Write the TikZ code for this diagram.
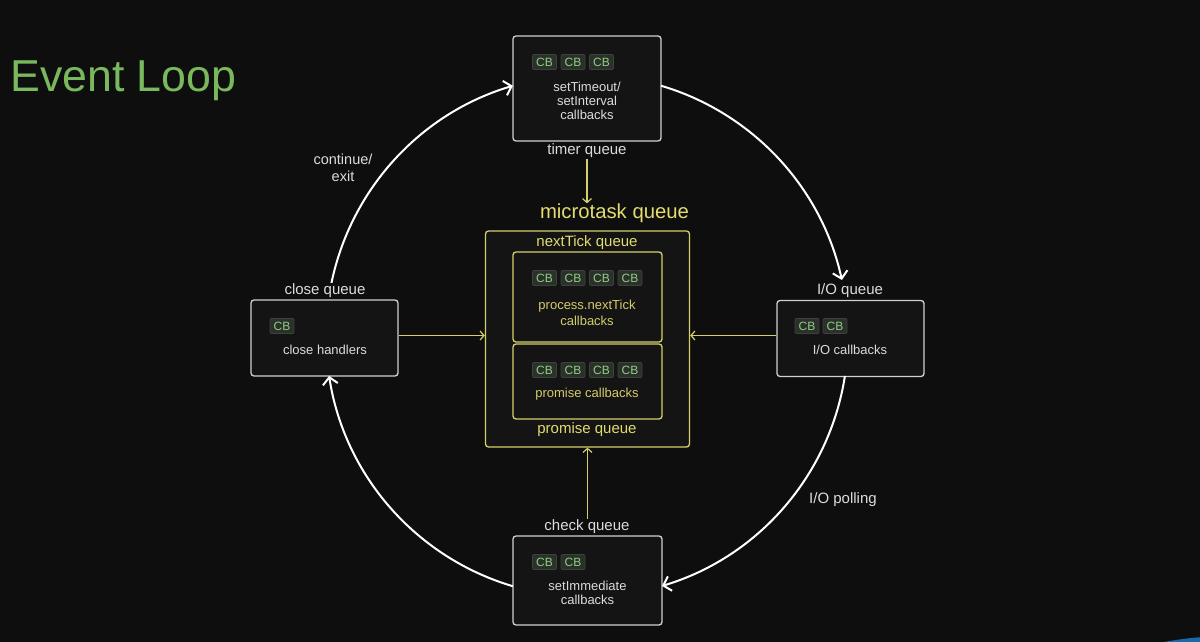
\documentclass[tikz,border=0pt]{standalone}
\usepackage{fontspec}
\setmainfont{Liberation Sans}
\usetikzlibrary{arrows.meta,calc}
\definecolor{bg}{HTML}{0E0E0E}
\definecolor{boxfill}{HTML}{141414}
\definecolor{boxdraw}{HTML}{D0D0D0}
\definecolor{txt}{HTML}{DCDCDC}
\definecolor{yline}{HTML}{D6CF6C}
\definecolor{ytxt}{HTML}{E3DC70}
\definecolor{ytxtin}{HTML}{D4CC6A}
\definecolor{titlegreen}{HTML}{79B85C}
\definecolor{cbtxt}{HTML}{8DCF80}
\definecolor{cbfill}{HTML}{2B302B}
\definecolor{cbdraw}{HTML}{3C423C}
\definecolor{blob}{HTML}{1A6AA8}
\tikzset{
  qbox/.style={draw=boxdraw, line width=1.3pt, rounded corners=3pt, fill=boxfill, inner sep=0pt},
  ybox/.style={draw=yline, line width=1.3pt, rounded corners=3pt, fill=boxfill, inner sep=0pt},
  cb/.style={draw=cbdraw, line width=0.6pt, fill=cbfill, text=cbtxt, minimum width=24pt, minimum height=15pt, inner sep=0pt, rounded corners=1pt, font=\fontsize{12}{12}\selectfont},
  btext/.style={text=txt, align=center, font=\fontsize{13}{14}\selectfont, inner sep=0pt},
  ytext/.style={text=ytxtin, align=center, font=\fontsize{13}{16}\selectfont, inner sep=0pt},
  qlabel/.style={text=txt, font=\fontsize{15}{15}\selectfont, inner sep=1pt, fill=bg},
  ylabel/.style={text=ytxt, font=\fontsize{15}{15}\selectfont, inner sep=1pt},
  loopline/.style={draw=white, line width=2pt, -{Straight Barb[length=7pt,width=15pt,line width=2pt]}},
  yarrow/.style={draw=yline, line width=1.2pt, -{Straight Barb[length=4pt,width=9pt,line width=1.2pt]}},
}
\begin{document}
\begin{tikzpicture}[x=1pt,y=1pt]
\fill[bg] (0,0) rectangle (1200,-642);
\useasboundingbox (0,0) rectangle (1200,-642);
\begin{scope}
\clip (0,0) rectangle (1200,-642);
\fill[blob] (1230,-1000) circle[radius=364];
\end{scope}

% title
\node[anchor=base west, text=titlegreen, font=\fontsize{44.7}{44.7}\selectfont, inner sep=0pt] (title) at (10,-92) {Event Loop};

% loop center
\coordinate (ctr) at (587,-336);

% timer
\node[qbox, minimum width=148pt, minimum height=105pt] (timer) at (587,-88.5) {};
\node[cb] (t1) at (544.5,-62) {CB};
\node[cb] (t2) at (573,-62) {CB};
\node[cb] (t3) at (601.5,-62) {CB};
\node[btext] (ttext) at (587,-101) {setTimeout/\\setInterval\\callbacks};
\node[qlabel] (timerlbl) at (587,-151) {timer queue};

% microtask
\node[ylabel, font=\fontsize{20.3}{20.3}\selectfont] (mtlbl) at (614.5,-213) {microtask queue};
\node[ybox, minimum width=204pt, minimum height=216pt] (mt) at (587.5,-339) {};
\node[ylabel] (ntlbl) at (587,-243) {nextTick queue};
\node[ybox, minimum width=149pt, minimum height=90pt] (nt) at (587.5,-297) {};
\node[cb] (n1) at (544.5,-278) {CB};
\node[cb] (n2) at (573,-278) {CB};
\node[cb] (n3) at (601.5,-278) {CB};
\node[cb] (n4) at (630,-278) {CB};
\node[ytext] (nttext) at (587,-313) {process.nextTick\\callbacks};
\node[ybox, minimum width=149pt, minimum height=75pt] (pr) at (587.5,-381.5) {};
\node[cb] (p1) at (544.5,-370) {CB};
\node[cb] (p2) at (573,-370) {CB};
\node[cb] (p3) at (601.5,-370) {CB};
\node[cb] (p4) at (630,-370) {CB};
\node[ytext] (prtext) at (587,-394) {promise callbacks};
\node[ylabel] (prlbl) at (587,-429.5) {promise queue};

% close
\node[qbox, minimum width=147pt, minimum height=76pt] (close) at (324.5,-338) {};
\node[cb] (c1) at (282,-326) {CB};
\node[btext] (ctext) at (325,-350) {close handlers};

% I/O
\node[qbox, minimum width=147pt, minimum height=76pt] (io) at (850.5,-338.5) {};
\node[cb] (i1) at (807,-326) {CB};
\node[cb] (i2) at (835,-326) {CB};
\node[btext] (itext) at (850,-350) {I/O callbacks};

% check
\node[qbox, minimum width=149pt, minimum height=89pt] (check) at (587.5,-580.5) {};
\node[cb] (k1) at (544.5,-562) {CB};
\node[cb] (k2) at (573,-562) {CB};
\node[btext] (ktext) at (587.5,-593) {setImmediate\\callbacks};

% loop arcs
\coordinate (a1) at ($(ctr)+(168.5:261)$);
\coordinate (a2) at ($(ctr)+(73.5:261)$);
\coordinate (a3) at ($(ctr)+(-8.8:261)$);
\coordinate (a4) at ($(ctr)+(-106.5:261)$);
\draw[loopline] (a1) arc[start angle=168.5, end angle=106.5, radius=261];
\draw[loopline] (a2) arc[start angle=73.5, end angle=12.4, radius=261];
\draw[loopline] (a3) arc[start angle=-8.8, end angle=-73.3, radius=261];
\draw[loopline] (a4) arc[start angle=-106.5, end angle=-171.2, radius=261];

% labels drawn over arcs
\node[qlabel] (closelbl) at (325,-291) {close queue};
\node[qlabel] (iolbl) at (850,-291) {I/O queue};
\node[qlabel] (checklbl) at (587,-527) {check queue};
\node[text=txt, align=center, font=\fontsize{14.5}{17}\selectfont, inner sep=0pt] (cont) at (343,-168) {continue/\\exit};
\node[text=txt, font=\fontsize{15}{15}\selectfont, inner sep=0pt] (poll) at (843,-500) {I/O polling};

% yellow arrows
\coordinate (cl) at ($(close.east)+(0,2.5)$);
\coordinate (il) at ($(io.west)+(0,3)$);
\draw[yarrow] (timerlbl.south) -- ($(mtlbl.north -| timerlbl.south)+(0,-1)$);
\draw[yarrow] (cl) -- (cl -| mt.west);
\draw[yarrow] (il) -- (il -| mt.east);
\draw[yarrow] (checklbl.north -| mt.south) -- (mt.south);
\end{tikzpicture}
\end{document}
